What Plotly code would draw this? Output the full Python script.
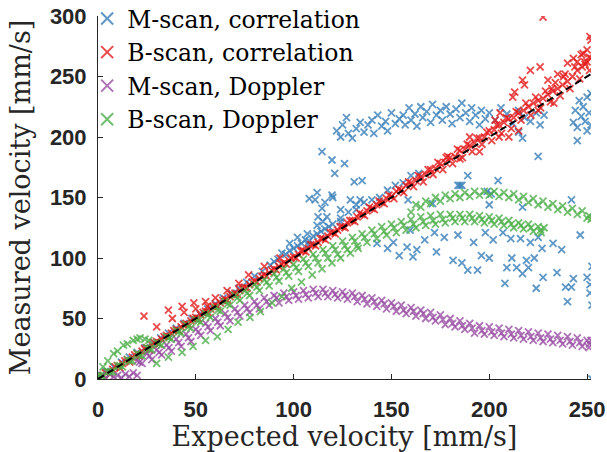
import plotly.graph_objects as go

# ---------------- data ----------------
# B-scan, correlation (red)
red_x = [0, 2.5, 5, 7.5, 10, 12.5, 15, 17.5, 20, 22.5, 25, 27.5, 30, 32.5, 35, 37.5, 40, 42.5, 45, 47.5,
         50, 52.5, 55, 57.5, 60, 62.5, 65, 67.5, 70, 72.5, 75, 77.5, 80, 82.5, 85, 87.5, 90, 92.5, 95, 97.5,
         100, 102.5, 105, 107.5, 110, 112.5, 115, 117.5, 120, 122.5, 125, 127.5, 130, 132.5, 135, 137.5, 140, 142.5, 145, 147.5,
         150, 152.5, 155, 157.5, 160, 162.5, 165, 167.5, 170, 172.5, 175, 177.5, 180, 182.5, 185, 187.5, 190, 192.5, 195, 197.5,
         200, 202.5, 205, 207.5, 210, 212.5, 215, 217.5, 220, 222.5, 225, 227.5, 230, 232.5, 235, 237.5, 240, 242.5, 245, 247.5, 250, 252,
         1.25, 6.25, 11.25, 16.25, 21.25, 26.25, 31.25, 36.25, 41.25, 46.25, 51.25, 56.25, 61.25, 66.25, 71.25, 76.25, 81.25, 86.25, 91.25, 96.25,
         101.25, 106.25, 111.25, 116.25, 121.25, 126.25, 131.25, 136.25, 141.25, 146.25, 151.25, 156.25, 161.25, 166.25, 171.25, 176.25, 181.25, 186.25, 191.25, 196.25,
         201.25, 206.25, 211.25, 216.25, 221.25, 226.25, 231.25, 236.25, 241.25, 246.25, 251.25,
         3.75, 8.75, 13.75, 18.75, 23.75, 28.75, 33.75, 38.75, 43.75, 48.75, 53.75, 58.75, 63.75, 68.75, 73.75, 78.75, 83.75, 88.75, 93.75, 98.75,
         103.75, 108.75, 113.75, 118.75, 123.75, 128.75, 133.75, 138.75, 143.75, 148.75, 153.75, 158.75, 163.75, 168.75, 173.75, 178.75, 183.75, 188.75, 193.75, 198.75,
         203.75, 208.75, 213.75, 218.75, 223.75, 228.75, 233.75, 238.75, 243.75, 248.75,
         23.5, 30, 36, 38, 43, 44, 49, 50, 55, 56, 60, 66, 72, 77, 85, 93,
         203, 205.5, 212, 217, 221, 226, 227.5, 230, 232, 235, 238, 240, 243, 245, 247, 248, 249, 250, 251, 251.5, 252,
         215, 210, 195, 185, 178, 190, 205, 225, 233, 213, 218]
red_y = [1, 3, 6, 8, 11, 13, 16, 18, 21, 23, 26, 28, 31, 33, 36, 38, 41, 43, 46, 48,
         51, 53, 56, 58, 61, 63, 66, 68, 71, 73, 76, 78, 81, 83, 86, 88, 91, 93, 96, 98,
         101, 103, 106, 108, 111, 113, 116, 118, 121, 123, 126, 129, 131, 134, 136, 139, 141, 144, 146, 149,
         151, 155, 156, 160, 162, 164, 167, 169, 173, 174, 178, 179, 183, 184, 189, 190, 193, 195, 199, 200,
         205, 206, 210, 212, 215, 216, 220, 222, 225, 228, 230, 232, 235, 238, 240, 243, 246, 250, 255, 258, 262, 265,
         0, 4, 9, 14, 19, 24, 29, 35, 40, 45, 50, 55, 60, 65, 70, 75, 80, 85, 90, 95,
         100, 105, 110, 115, 120, 125, 130, 135, 140, 145, 149, 154, 159, 163, 169, 173, 178, 183, 188, 194,
         197, 203, 207, 214, 218, 224, 229, 234, 240, 248, 255,
         5, 10, 15, 20, 25, 30, 35, 40, 45, 50, 55, 60, 65, 70, 75, 80, 85, 90, 95, 100,
         106, 111, 116, 121, 126, 131, 137, 142, 147, 152, 157, 163, 168, 173, 179, 184, 190, 194, 199, 204,
         210, 216, 221, 228, 233, 238, 245, 252, 258, 262,
         52, 43, 57, 50, 60, 55, 63, 58, 64, 60, 67, 73, 79, 86, 93, 100,
         214, 220, 233, 247, 255, 258, 299, 247, 240, 252, 250, 261, 265, 262, 268, 269, 260, 272, 266, 283, 280,
         205, 200, 188, 182, 183, 200, 200, 222, 228, 237, 243]

# M-scan, correlation (blue)
blue_x = [0, 4, 8, 12, 16, 20, 24, 28, 32, 36, 40, 44, 48, 52, 56, 60, 64, 68, 72, 76,
          80, 84, 88, 90, 92, 94, 96, 98, 100, 102, 104, 106, 108, 110, 112, 114, 116, 118, 120,
          124, 128, 132, 136, 140, 144, 148, 152, 156, 160, 164,
          122, 124, 125, 127, 128, 130, 132, 134, 136, 138, 140, 141, 143, 145, 147, 148, 150, 152, 154,
          156, 157, 159, 160, 162, 163, 165, 166, 168, 170, 171, 173, 175,
          176, 178, 180, 181, 183, 185, 186, 188, 190, 191, 193, 195, 196, 198, 200,
          203, 206, 209, 212, 215, 218, 221, 224, 226, 228,
          243, 244, 245, 246, 247, 248, 249, 250, 251, 252, 252, 250,
          245, 225, 215, 217, 204.5, 189, 184, 186, 199, 185, 201, 171, 200, 242, 217, 158.5,
          114.5, 119.6, 121, 126, 131, 135, 111, 108, 116, 120, 112, 119.6, 114.5, 117, 124, 124,
          129, 132, 134, 115, 112, 112.5, 107, 107.5, 102, 98,
          163, 167, 172, 173, 177, 181.5, 184, 186, 189, 192, 194, 196, 198, 200, 202, 207, 208, 209,
          211, 211.5, 214, 216, 217, 219, 220, 221, 223, 224, 225, 227, 227.5, 232.6, 234.6, 237, 239,
          240, 242, 243, 246.5, 250, 251.5, 251.5, 252.5, 252.5, 252.5,
          142.6, 148, 151, 154, 158, 161, 159.5]
blue_y = [2, 6, 10, 14, 18, 22, 26, 30, 34, 38, 42, 46, 50, 54, 58, 62, 67, 71, 75, 80,
          85, 89, 94, 97, 99, 104, 103, 106, 108, 110, 112, 115, 114, 118, 120, 122, 124, 126, 128,
          133, 138, 140, 146, 148, 150, 156, 160, 162, 168, 170,
          205, 200, 210, 216, 203, 199, 207, 212, 204, 210, 214, 203, 218, 209, 213, 205, 220, 211, 215,
          218, 210, 224, 214, 219, 209, 225, 216, 221, 212, 227, 218, 222,
          214, 225, 219, 211, 223, 216, 228, 220, 213, 224, 218, 210, 222, 215, 220,
          214, 224, 219, 211, 222, 216, 213, 220, 210, 218,
          212, 222, 208, 230, 217, 225, 213, 233, 220, 236, 210, 205,
          197, 184, 204, 199, 164, 168, 160, 160, 155, 160, 153, 145, 144, 148, 142, 148,
          188, 181, 170, 178, 163, 164, 148, 149, 146, 150, 154, 152, 141, 134, 140, 130,
          148, 144, 148, 130, 127, 134, 120, 111, 117, 112,
          107, 115, 121, 105, 117, 98, 119, 96, 90, 113, 90, 102, 121, 100, 115, 121, 79, 92,
          116, 100, 92, 116, 87, 98, 92, 113, 100, 75, 117, 108, 84, 112, 88, 107, 76,
          64, 76, 83, 119, 84, 78, 71, 61, 93, 0,
          112, 108, 113, 102, 109, 101, 123]

# M-scan, Doppler (purple)
purple_x = [0, 2, 4, 6, 8, 10, 12, 14, 16, 18, 20,
            20, 25, 30, 35, 40, 45, 50, 55, 60, 65, 70, 75, 80, 85, 90, 95, 100, 105, 110, 115, 120, 125,
            130, 135, 140, 145, 150, 155, 160, 165, 170, 175, 180, 185, 190, 195, 200, 205, 210, 215,
            220, 225, 230, 235, 240, 245, 250, 252,
            22.5, 27.5, 32.5, 37.5, 42.5, 47.5, 52.5, 57.5, 62.5, 67.5, 72.5, 77.5, 82.5, 87.5, 92.5, 97.5,
            102.5, 107.5, 112.5, 117.5, 122.5, 127.5, 132.5, 137.5, 142.5, 147.5, 152.5, 157.5, 162.5, 167.5,
            172.5, 177.5, 182.5, 187.5, 192.5, 197.5, 202.5, 207.5, 212.5, 217.5, 222.5, 227.5, 232.5, 237.5,
            242.5, 247.5, 251,
            21.25, 26.25, 31.25, 36.25, 41.25, 46.25, 51.25, 56.25, 61.25, 66.25, 71.25, 76.25, 81.25, 86.25, 91.25, 96.25,
            101.25, 106.25, 111.25, 116.25, 121.25, 126.25, 131.25, 136.25, 141.25, 146.25, 151.25, 156.25, 161.25, 166.25,
            171.25, 176.25, 181.25, 186.25, 191.25, 196.25, 201.25, 206.25, 211.25, 216.25, 221.25, 226.25, 231.25, 236.25,
            241.25, 246.25, 251.25]
purple_y = [1, 3, 1, 4, 2, 3, 1, 4, 2, 5, 3,
            15, 21, 24, 28, 33, 37, 41, 46, 50, 54, 58, 61, 64, 67, 69, 71, 72, 73, 74, 74, 73, 72,
            71, 69, 67, 65, 63, 61, 59, 57, 55, 53, 50, 48, 46, 44, 43, 42, 41, 40,
            39, 38, 37, 36, 35, 34, 32, 32,
            13, 16, 20, 23, 27, 31, 36, 40, 44, 48, 52, 55, 58, 61, 63, 65,
            66, 67, 68, 68, 67, 66, 64, 62, 60, 58, 56, 54, 52, 50,
            48, 45, 43, 41, 38, 37, 36, 35, 34, 33, 32, 31, 30, 29,
            28, 27, 26,
            14, 19, 22, 26, 30, 34, 39, 43, 47, 51, 55, 58, 61, 64, 67, 68,
            69, 70, 71, 71, 70, 69, 68, 66, 64, 62, 60, 57, 56, 54,
            51, 49, 46, 44, 42, 40, 39, 38, 37, 36, 35, 34, 33, 32,
            31, 30, 29]

# B-scan, Doppler (green)
green_x = [0, 5, 10, 15, 20, 25, 30, 35, 40, 45, 50, 55, 60, 65, 70, 75, 80, 85, 90, 95,
           100, 105, 110, 115, 120, 125, 130, 135, 140, 145, 150, 155, 160, 165, 170, 175, 180, 185, 190, 195,
           200, 205, 210, 215, 220, 225, 228,
           2.5, 7.5, 12.5, 17.5, 22.5, 27.5, 32.5, 37.5, 42.5, 47.5, 52.5, 57.5, 62.5, 67.5, 72.5, 77.5, 82.5, 87.5, 92.5, 97.5,
           102.5, 107.5, 112.5, 117.5, 122.5, 127.5, 132.5, 137.5, 142.5, 147.5, 152.5, 157.5, 162.5, 167.5, 172.5, 177.5,
           182.5, 187.5, 192.5, 197.5, 202.5, 207.5, 212.5, 217.5, 222.5, 226.5,
           1.25, 6.25, 11.25, 16.25, 21.25, 26.25, 31.25, 36.25, 41.25, 46.25, 51.25, 56.25, 61.25, 66.25, 71.25, 76.25,
           81.25, 86.25, 91.25, 96.25, 101.25, 106.25, 111.25, 116.25, 121.25, 126.25, 131.25, 136.25, 141.25, 146.25,
           151.25, 156.25, 161.25, 166.25, 171.25, 176.25, 181.25, 186.25, 191.25, 196.25, 201.25, 206.25, 211.25,
           216.25, 221.25, 226.25,
           160, 165, 170, 175, 180, 185, 190, 195, 200, 205, 210, 215, 220, 225, 230, 235, 240, 245, 250, 252,
           162.5, 167.5, 172.5, 177.5, 182.5, 187.5, 192.5, 197.5, 202.5, 207.5, 212.5, 217.5, 222.5, 227.5,
           232.5, 237.5, 242.5, 247.5, 251,
           2.6, 5, 8, 10, 13, 15, 18, 20, 21.5, 24, 26,
           30, 36, 43, 48.6, 55, 61, 66.5, 71.6, 77.7, 83, 89, 94, 99, 104, 109.5, 114.5, 119.6, 124, 129, 133]
green_y = [3, 6, 11, 16, 21, 26, 30, 35, 40, 45, 49, 54, 59, 64, 69, 73, 78, 82, 87, 91,
           95, 99, 103, 107, 110, 114, 117, 120, 123, 126, 128, 130, 132, 134, 135, 136, 136, 136, 136, 135,
           134, 133, 131, 129, 128, 126, 125,
           2, 6, 10, 15, 19, 24, 28, 33, 38, 42, 47, 51, 56, 61, 65, 69, 73, 77, 81, 85,
           89, 93, 96, 100, 103, 107, 110, 113, 116, 119, 121, 123, 125, 127, 128, 129,
           130, 130, 130, 129, 128, 127, 125, 124, 122, 121,
           3, 6, 11, 15, 20, 25, 29, 34, 39, 43, 48, 53, 57, 62, 67, 71,
           76, 80, 84, 88, 92, 96, 100, 104, 107, 110, 114, 117, 120, 122,
           125, 127, 128, 130, 131, 132, 133, 133, 133, 132, 131, 130, 128,
           127, 125, 123,
           138, 142, 145, 147, 149, 150, 151, 152, 152, 151, 150, 148, 146, 144, 142, 140, 138, 136, 133, 132,
           144, 147, 150, 152, 153, 154, 155, 155, 155, 154, 153, 151, 149, 147,
           145, 143, 141, 139, 135,
           10, 15, 21, 23, 28, 29, 32, 33, 34, 33, 32,
           13, 18, 22, 27, 32, 35, 41, 47, 51, 55.6, 63, 68, 75, 80, 86, 91, 96, 100, 104, 108]

# identity line
ref_x = [0, 252]
ref_y = [0, 252]

series_names = ["M-scan, correlation", "B-scan, correlation", "M-scan, Doppler", "B-scan, Doppler"]
series_colors = ["#377eb8", "#e41a1c", "#984ea3", "#4daf4a"]
series_data = [(blue_x, blue_y), (red_x, red_y), (purple_x, purple_y), (green_x, green_y)]

x_ticks = [0, 50, 100, 150, 200, 250]
y_ticks = [0, 50, 100, 150, 200, 250, 300]

# ---------------- figure ----------------
fig = go.Figure()
for name, color, (xs, ys) in zip(series_names, series_colors, series_data):
    fig.add_trace(go.Scatter(
        x=xs, y=ys, mode="markers", name=name,
        marker=dict(symbol="x-thin-open", size=7, color=color,
                    line=dict(width=1.8, color=color), opacity=0.8),
    ))

fig.add_trace(go.Scatter(x=ref_x, y=ref_y, mode="lines", showlegend=False,
                         line=dict(color="black", width=2, dash="7px,4px")))

axis_common = dict(
    showgrid=False, zeroline=False, showline=True, linecolor="#262626", linewidth=1,
    ticks="inside", ticklen=5, tickcolor="#262626", mirror=False, automargin=False,
    tickfont=dict(family="Liberation Sans", size=22, color="#262626", weight="bold"),
)

fig.update_xaxes(range=[0, 252], tickvals=x_ticks, ticklabelstandoff=11,
                 title=dict(text="Expected velocity [mm/s]", standoff=5,
                            font=dict(family="DejaVu Serif", size=27, color="#262626")),
                 **axis_common)
fig.update_yaxes(range=[0, 300], tickvals=y_ticks, ticklabelstandoff=6,
                 title=dict(text="Measured velocity [mm/s]", standoff=11,
                            font=dict(family="DejaVu Serif", size=27, color="#262626")),
                 **axis_common)

fig.update_layout(
    width=607, height=452,
    margin=dict(l=98, r=16, t=16, b=73, autoexpand=False),
    paper_bgcolor="white", plot_bgcolor="white",
    legend=dict(x=-0.022, y=1.053, xanchor="left", yanchor="top",
                bgcolor="rgba(0,0,0,0)", font=dict(family="DejaVu Serif", size=23.5, color="black"),
                itemsizing="constant", itemwidth=30, tracegroupgap=0),
)

fig.write_html("out.html", config={"displayModeBar": False},
               post_script="document.body.style.margin='0';")
